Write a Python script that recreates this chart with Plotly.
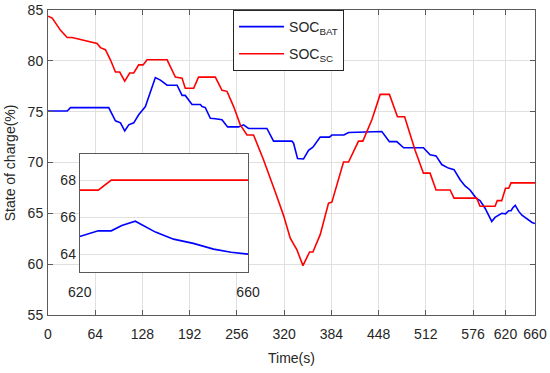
import plotly.graph_objects as go

# ---- data ----
t_bat = [0, 26, 30.5, 82.3, 91.4, 98.2, 104, 109.4, 116.2, 122.9, 132, 145.5, 152.3, 161.4,
         174.9, 181.7, 186, 195.2, 206.5, 208.8, 213.2, 220, 226.8, 235.8, 243.4, 258.3, 265,
         271.8, 296.7, 305.7, 330.6, 332.8, 338.2, 346.3, 353.1, 359, 368.9, 381.5, 384.7,
         401, 407.3, 420.8, 452.4, 462.7, 472.7, 482, 508.8, 517.8, 525.9, 533.6, 542.6,
         550.3, 558.5, 565.2, 572, 580.1, 585.5, 592.3, 601.4, 605.8, 614.9, 620, 624.4,
         627.5, 630, 633.2, 638, 642.3, 647, 651.8, 656, 660]
soc_bat = [75.07, 75.07, 75.4, 75.4, 74.1, 73.9, 73.1, 73.7, 73.9, 74.7, 75.5, 78.35, 78.1, 77.6,
           77.6, 76.6, 76.6, 75.7, 75.7, 75.5, 75.4, 74.35, 74.3, 74.2, 73.5, 73.5, 73.7,
           73.35, 73.35, 72.1, 72.1, 71.9, 70.4, 70.35, 71.2, 71.5, 72.5, 72.5, 72.7,
           72.7, 72.95, 73.0, 73.05, 72.05, 72.05, 71.45, 71.45, 70.75, 70.65, 69.8, 69.45,
           69.3, 68.3, 67.7, 67.3, 66.5, 66.25, 65.5, 64.2, 64.6, 65.0, 64.95, 65.26,
           65.26, 65.55, 65.78, 65.19, 64.81, 64.58, 64.27, 64.1, 64.0]

t_sc = [0, 5.7, 17, 26, 32.7, 44, 57.5, 66.6, 71, 77.8, 84.6, 91.4, 97.2, 104, 110.7, 116.2,
        122.9, 128.9, 134.3, 161.4, 172.6, 181.7, 186, 197.4, 204, 226.8, 235.8, 242.6,
        251.6, 260.6, 269.7, 278.6, 292.2, 303.5, 308, 319.2, 328.3, 337.4, 345.5, 354.5,
        359, 368.9, 380.2, 384.7, 400.5, 407.3, 420.8, 426.7, 438.9, 450.2, 462.7, 473.6,
        483.3, 497.5, 508.8, 517.8, 525.9, 544.9, 550.3, 581, 585.5, 605.8, 608.9, 614.9,
        620, 624.4, 627.5, 660]
soc_sc = [84.4, 84.2, 83.0, 82.3, 82.3, 82.1, 81.9, 81.7, 81.3, 81.1, 80.1, 78.9, 78.9, 78.0, 78.8, 78.8,
          79.6, 79.6, 80.1, 80.1, 78.4, 78.3, 77.3, 77.3, 78.4, 78.4, 77.1, 77.0,
          75.5, 73.7, 72.7, 72.7, 70.25, 68.1, 67.1, 64.8, 62.55, 61.4, 59.86, 61.2,
          61.2, 62.9, 66.0, 66.1, 70.05, 70.05, 72.1, 72.1, 74.2, 76.7, 76.7, 74.5,
          74.5, 71.2, 68.95, 68.95, 67.3, 67.3, 66.5, 66.5, 65.7, 65.7, 66.25, 66.25,
          67.46, 67.46, 68.0, 68.0]

x_ticks = [0, 64, 128, 192, 256, 320, 384, 448, 512, 576, 620, 660]
y_ticks = [55, 60, 65, 70, 75, 80, 85]
inset_x_ticks = [620, 660]
inset_y_ticks = [64, 66, 68]

BLUE = "#0000ff"
RED = "#ff0000"
TXT = "#262626"
AX = "#5a5a5a"
GRID = "#e0e0e0"
FONT = "Liberation Sans, Arial, sans-serif"

fig = go.Figure()
fig.add_trace(go.Scatter(x=t_bat, y=soc_bat, mode="lines", name="SOC<sub>BAT</sub>",
                         legendgroup="bat", line=dict(color=BLUE, width=1.6)))
fig.add_trace(go.Scatter(x=t_sc, y=soc_sc, mode="lines", name="SOC<sub>SC</sub>",
                         legendgroup="sc", line=dict(color=RED, width=1.6)))
# inset traces
fig.add_trace(go.Scatter(x=t_bat, y=soc_bat, mode="lines", showlegend=False,
                         line=dict(color=BLUE, width=1.6), xaxis="x2", yaxis="y2"))
fig.add_trace(go.Scatter(x=t_sc, y=soc_sc, mode="lines", showlegend=False,
                         line=dict(color=RED, width=1.6), xaxis="x2", yaxis="y2"))

axis_common = dict(showline=True, linecolor=AX, linewidth=1, mirror="ticks",
                   ticks="inside", ticklen=5, tickcolor=AX, showgrid=True,
                   gridcolor=GRID, gridwidth=1, zeroline=False, automargin=False,
                   tickfont=dict(size=14, color=TXT, family=FONT))

fig.update_layout(
    width=550, height=373,
    margin=dict(l=47.5, r=15, t=10, b=58),
    paper_bgcolor="white", plot_bgcolor="white",
    font=dict(family=FONT, color=TXT, size=14),
    xaxis=dict(range=[0, 660], tickvals=x_ticks, domain=[0, 1],
               title=dict(text="Time(s)", font=dict(size=14, color=TXT), standoff=12),
               ticklabelstandoff=6, **axis_common),
    yaxis=dict(range=[55, 85], tickvals=y_ticks, domain=[0, 1],
               ticklabelstandoff=1, **axis_common),
    xaxis2=dict(range=[620, 660], tickvals=inset_x_ticks, domain=[0.0652, 0.4107],
                anchor="y2", ticklabelstandoff=8,
                **{**axis_common, "ticklen": 0, "showgrid": False}),
    yaxis2=dict(range=[63.05, 69.4], tickvals=inset_y_ticks, domain=[0.142, 0.527],
                anchor="x2", **{**axis_common, "ticklen": 0}),
    legend=dict(x=0.38, y=1, xanchor="left", yanchor="top",
                bgcolor="white", bordercolor=TXT, borderwidth=1,
                traceorder="grouped", tracegroupgap=6, itemwidth=45,
                font=dict(size=14, color=TXT, family=FONT)),
    showlegend=True,
    annotations=[dict(text="State of charge(%)", xref="paper", yref="paper",
                      x=-0.0785, y=0.5, xanchor="center", yanchor="middle",
                      textangle=-90, showarrow=False,
                      font=dict(size=14, color=TXT, family=FONT))],
)

fig.write_html("out.html", config={"displayModeBar": False},
               post_script="document.body.style.margin='0';")
